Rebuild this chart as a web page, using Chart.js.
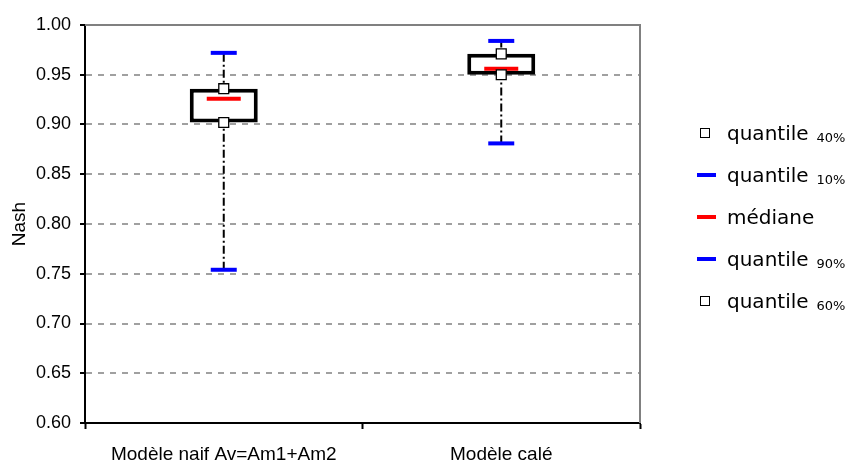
<!DOCTYPE html>
<html>
<head>
<meta charset="utf-8">
<script src="https://cdn.jsdelivr.net/npm/chart.js@4"></script>
<style>
    html, body { margin: 0; padding: 0; background: #fff; }
    #wrap { position: relative; width: 861px; height: 464px; }
    #legend { position: absolute; left: 697px; top: 112px; font-family: "DejaVu Sans", sans-serif; font-size: 20px; color: #000; }
    .row { display: flex; align-items: center; height: 42px; }
    .mark { width: 30px; display: flex; align-items: center; }
    .sq { width: 8px; height: 8px; border: 1.5px solid #000; background: #fff; margin-left: 3px; }
    .ln { width: 19px; height: 4px; }
    .row sub { font-size: 13px; margin-left: 8px; position: relative; top: 4px; }
</style>
</head>
<body>
<div id="wrap">
    <canvas id="chart" width="861" height="464"></canvas>
    <div id="legend"></div>
</div>
<script>
const categories = ["Modèle naif Av=Am1+Am2", "Modèle calé"];
const q10 = [0.754, 0.881];
const q40 = [0.902, 0.950];
const median = [0.926, 0.956];
const q60 = [0.936, 0.971];
const q90 = [0.972, 0.984];
const yTicks = [0.60, 0.65, 0.70, 0.75, 0.80, 0.85, 0.90, 0.95, 1.00];

const legendItems = [
    { label: "quantile", sub: "40%", kind: "square" },
    { label: "quantile", sub: "10%", kind: "line", color: "#0000ff" },
    { label: "médiane", sub: "", kind: "line", color: "#ff0000" },
    { label: "quantile", sub: "90%", kind: "line", color: "#0000ff" },
    { label: "quantile", sub: "60%", kind: "square" },
];

(() => {
    const squareMarker = {
        type: "line",
        showLine: false,
        pointStyle: "rect",
        pointRadius: 7,
        pointBackgroundColor: "#fff",
        pointBorderColor: "#000",
        pointBorderWidth: 1.3,
        order: 1,
    };
    const dashMarker = (color, radius) => ({
        type: "line",
        showLine: false,
        pointStyle: "line",
        pointRadius: radius,
        pointBorderColor: color,
        pointBorderWidth: 4,
        order: 2,
    });

    // lignes haut-bas (10% -> 90%), une par categorie
    const hiLow = categories.map((cat, i) => ({
        type: "line",
        data: [{ x: cat, y: q10[i] }, { x: cat, y: q90[i] }],
        borderColor: "#000",
        borderWidth: 2,
        borderDash: [8, 3, 2, 3],
        pointRadius: 0,
        order: 5,
    }));

    const plotFrame = {
        id: "plotFrame",
        beforeDatasetsDraw(chart) {
            const { ctx, chartArea: a } = chart;
            ctx.save();
            ctx.strokeStyle = "#808080";
            ctx.lineWidth = 2;
            ctx.beginPath();
            ctx.moveTo(a.left, a.top);
            ctx.lineTo(a.right, a.top);
            ctx.lineTo(a.right, a.bottom);
            ctx.stroke();
            ctx.restore();
        },
    };

    new Chart(document.getElementById("chart"), {
        type: "bar",
        data: {
            labels: categories,
            datasets: [
                ...hiLow,
                {
                    type: "bar",
                    data: categories.map((c, i) => [q40[i], q60[i]]),
                    backgroundColor: "#fff",
                    borderColor: "#000",
                    borderWidth: 4,
                    borderSkipped: false,
                    barPercentage: 0.245,
                    categoryPercentage: 1,
                    order: 4,
                },
                { ...squareMarker, data: q40 },
                { ...dashMarker("#0000ff", 13), data: q10 },
                { ...dashMarker("#ff0000", 17), data: median },
                { ...dashMarker("#0000ff", 13), data: q90 },
                { ...squareMarker, data: q60 },
            ],
        },
        options: {
            responsive: false,
            animation: false,
            events: [],
            layout: { padding: { top: 25, right: 221, bottom: 0, left: 0 } },
            plugins: { legend: { display: false }, tooltip: { enabled: false } },
            scales: {
                x: {
                    offset: true,
                    afterFit(scale) { scale.height = 41; },
                    grid: { offset: true, drawOnChartArea: false, tickColor: "#000", tickWidth: 2, tickLength: 6 },
                    border: { color: "#000", width: 2 },
                    ticks: { color: "#000", padding: 14, font: { family: "Liberation Sans", size: 19 } },
                },
                y: {
                    min: 0.6,
                    max: 1.0,
                    afterFit(scale) { scale.width = 85; },
                    afterBuildTicks(scale) { scale.ticks = yTicks.map((v) => ({ value: v })); },
                    grid: { color: "#a0a0a0", lineWidth: 2, tickColor: "#000", tickWidth: 2, tickLength: 5 },
                    border: { color: "#000", width: 2, dash: [6, 6] },
                    ticks: {
                        color: "#000",
                        padding: 9,
                        font: { family: "Liberation Sans", size: 18 },
                        callback: (v) => Number(v).toFixed(2),
                    },
                    title: { display: true, text: "Nash", color: "#000", padding: { top: 8, bottom: 0 }, font: { family: "Liberation Sans", size: 19 } },
                },
            },
        },
        plugins: [plotFrame],
    });

    const legend = document.getElementById("legend");
    legendItems.forEach((item) => {
        const row = document.createElement("div");
        row.className = "row";
        const mark = document.createElement("div");
        mark.className = "mark";
        const sym = document.createElement("div");
        sym.className = item.kind === "square" ? "sq" : "ln";
        if (item.color) sym.style.background = item.color;
        mark.appendChild(sym);
        row.appendChild(mark);
        const text = document.createElement("span");
        text.textContent = item.label;
        row.appendChild(text);
        if (item.sub) {
            const sub = document.createElement("sub");
            sub.textContent = item.sub;
            row.appendChild(sub);
        }
        legend.appendChild(row);
    });
})();
</script>
</body>
</html>
